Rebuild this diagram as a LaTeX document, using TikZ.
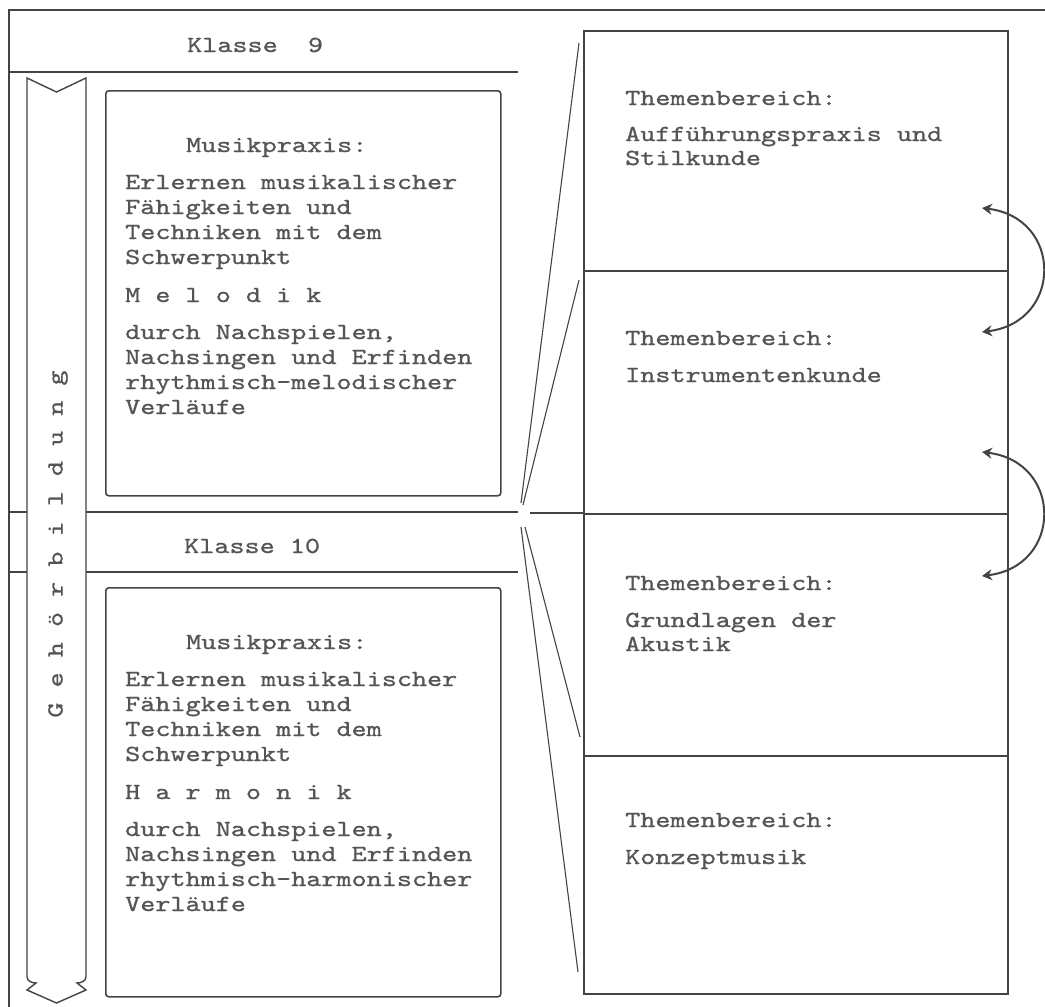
\documentclass[tikz,border=0pt]{standalone}
\usepackage{fontspec}
\setmonofont{lmmono10-regular.otf}[FakeStretch=1.25,FakeBold=0.9]
\usetikzlibrary{arrows.meta}
\definecolor{inkc}{HTML}{444444}
\definecolor{txtc}{HTML}{555555}
\begin{document}
\begin{tikzpicture}[x=1pt,y=-1pt,
  thin line/.style={draw=inkc, line width=1.4pt},
  frame line/.style={draw=inkc, line width=1.9pt},
  heavy line/.style={draw=inkc, line width=2.6pt},
  funnel/.style={draw=inkc, line width=1.1pt},
  leftbox/.style={draw=inkc, line width=1.6pt, rectangle, rounded corners=3pt, inner sep=0pt, anchor=north west, minimum width=395pt},
  rightbox/.style={draw=inkc, line width=2pt, rectangle, inner sep=0pt, anchor=north west, minimum width=424pt},
  tx/.style={font=\ttfamily\fontsize{23}{25}\selectfont, text=txtc, inner sep=0pt, anchor=base west},
  swap arrow/.style={draw=inkc, line width=2pt, {Stealth[length=10pt,width=11pt]}-{Stealth[length=10pt,width=11pt]}}]
\useasboundingbox (0,0) rectangle (1045,1007);
\fill[white] (0,0) rectangle (1045,1007);

% outer frame (top and left)
\coordinate (ftr) at (1045,10);
\coordinate (ftl) at (9,10);
\coordinate (fbl) at (9,1007);
\draw[frame line] (ftr) -- (ftl) -- (fbl);

% grade header lines
\coordinate (k9l) at (9,72);   \coordinate (k9r) at (518,72);
\coordinate (k10al) at (9,512); \coordinate (k10ar) at (518,512);
\coordinate (k10bl) at (9,572); \coordinate (k10br) at (518,572);
\draw[heavy line] (k9l) -- (k9r);
\draw[heavy line] (k10al) -- (k10ar);
\draw[heavy line] (k10bl) -- (k10br);

\node[tx] (k9) at (187,52) {Klasse~~9};
\node[tx] (k10) at (184,553) {Klasse 10};

% Gehoerbildung band arrow
\draw[thin line, fill=white] (27,78) -- (56.5,92) -- (86,78) -- (86,977)
  .. controls (86,981) and (81,983) .. (77,983) -- (86,990) -- (56.5,1003)
  -- (27,990) -- (36,983) .. controls (32,983) and (27,981) .. (27,977) -- cycle;
\node[font=\ttfamily\fontsize{23}{25}\selectfont, text=txtc, inner sep=0pt, rotate=90] (gb) at (58,544) {G e h ö r b i l d u n g};

% left boxes
\node[leftbox, minimum height=405pt] (mp9) at (105,90) {};
\node[leftbox, minimum height=409pt] (mp10) at (105,587) {};

\node[tx] (a1) at (186,152) {Musikpraxis:};
\node[tx] (a2) at (125,189) {Erlernen musikalischer};
\node[tx] (a3) at (125,214) {Fähigkeiten und};
\node[tx] (a4) at (125,239) {Techniken mit dem};
\node[tx] (a5) at (125,264) {Schwerpunkt};
\node[tx] (a6) at (125,302) {M e l o d i k};
\node[tx] (a7) at (125,339) {durch Nachspielen,};
\node[tx] (a8) at (125,364) {Nachsingen und Erfinden};
\node[tx] (a9) at (125,389) {rhythmisch-melodischer};
\node[tx] (a10) at (125,414) {Verläufe};

\node[tx] (b1) at (186,649) {Musikpraxis:};
\node[tx] (b2) at (125,686) {Erlernen musikalischer};
\node[tx] (b3) at (125,711) {Fähigkeiten und};
\node[tx] (b4) at (125,736) {Techniken mit dem};
\node[tx] (b5) at (125,761) {Schwerpunkt};
\node[tx] (b6) at (125,799) {H a r m o n i k};
\node[tx] (b7) at (125,836) {durch Nachspielen,};
\node[tx] (b8) at (125,861) {Nachsingen und Erfinden};
\node[tx] (b9) at (125,886) {rhythmisch-harmonischer};
\node[tx] (b10) at (125,911) {Verläufe};

% right column
\node[rightbox, minimum height=240pt] (t1) at (583,30) {};
\node[rightbox, minimum height=243pt] (t2) at (583,270) {};
\node[rightbox, minimum height=242pt] (t3) at (583,513) {};
\node[rightbox, minimum height=238pt] (t4) at (583,755) {};

\node[tx] (c1) at (625,105) {Themenbereich:};
\node[tx] (c2) at (625,141) {Aufführungspraxis und};
\node[tx] (c3) at (625,165) {Stilkunde};
\node[tx] (d1) at (625,345) {Themenbereich:};
\node[tx] (d2) at (625,382) {Instrumentenkunde};
\node[tx] (e1) at (625,590) {Themenbereich:};
\node[tx] (e2) at (625,627) {Grundlagen der};
\node[tx] (e3) at (625,651) {Akustik};
\node[tx] (f1) at (625,827) {Themenbereich:};
\node[tx] (f2) at (625,864) {Konzeptmusik};

% funnel lines between the columns
\coordinate (fa1) at (579,43);  \coordinate (fa2) at (521,503);
\coordinate (fb1) at (579,280); \coordinate (fb2) at (523,505);
\coordinate (fc1) at (521,527); \coordinate (fc2) at (578,972);
\coordinate (fd1) at (525,527); \coordinate (fd2) at (580,737);
\coordinate (fm) at (530,513);
\draw[funnel] (fa1) -- (fa2);
\draw[funnel] (fb1) -- (fb2);
\draw[funnel] (fc1) -- (fc2);
\draw[funnel] (fd1) -- (fd2);
\draw[funnel] (fm) -- (t3.north west);

% exchange arrows on the right
\coordinate (s1) at (982,208); \coordinate (e1e) at (982,332);
\coordinate (s2) at (982,452); \coordinate (e2e) at (982,576);
\draw[swap arrow] (s1) .. controls (1063,218) and (1063,322) .. (e1e);
\draw[swap arrow] (s2) .. controls (1063,462) and (1063,566) .. (e2e);
\end{tikzpicture}
\end{document}
